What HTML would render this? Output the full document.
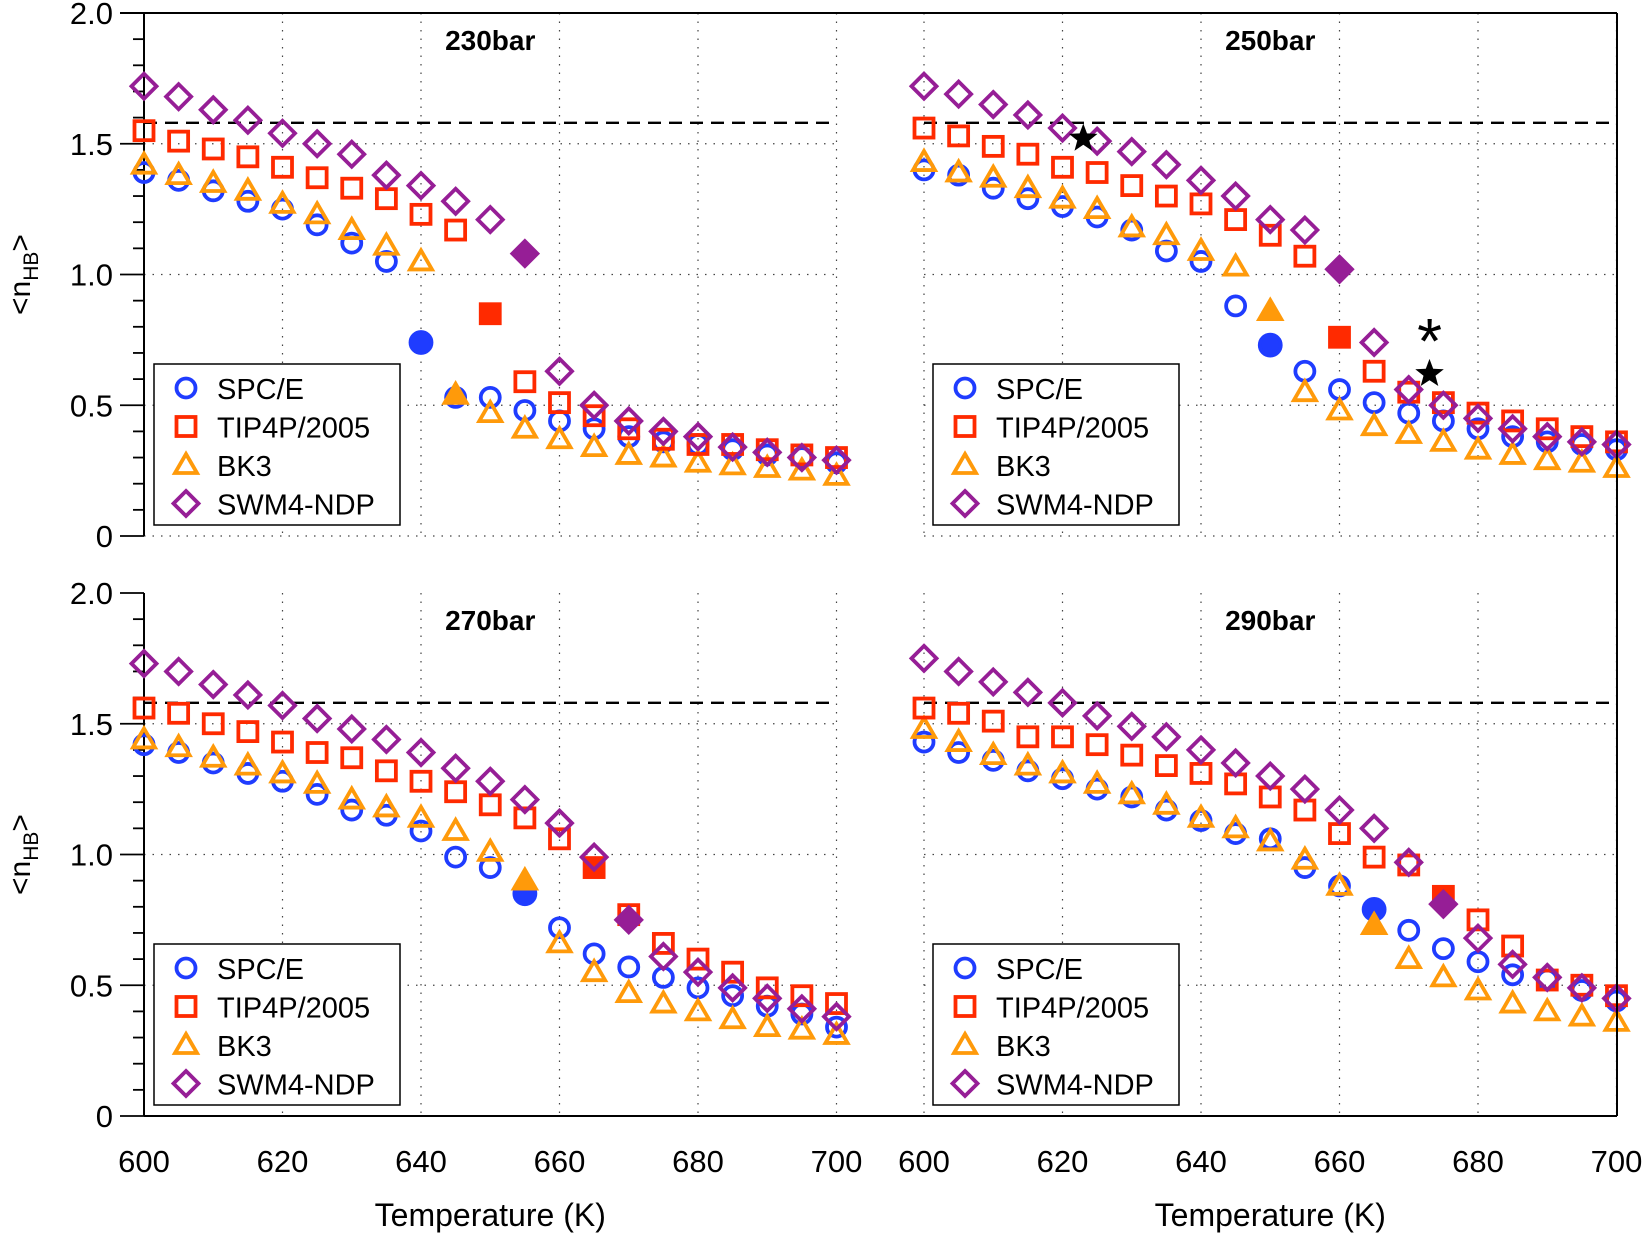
<!DOCTYPE html><html><head><style>body{margin:0;background:#fff}svg{display:block}</style></head><body>
<svg id="s" width="1645" height="1234" xmlns="http://www.w3.org/2000/svg" font-family="Liberation Sans, sans-serif"></svg>
<script>
const S=document.getElementById('s');let h='';
const C={b:'#1f3cff',r:'#ff2a00',o:'#ff9a0a',p:'#961e96'};
const panels=[
{x0:144,yb:536,t:'230bar',d:{
b:[1.39,1.36,1.32,1.28,1.25,1.19,1.12,1.05,0.74,0.53,0.53,0.48,0.44,0.41,0.38,0.36,0.35,0.33,0.31,0.30,0.28],bf:8,
r:[1.55,1.51,1.48,1.45,1.41,1.37,1.33,1.29,1.23,1.17,0.85,0.59,0.51,0.46,0.41,0.37,0.35,0.35,0.33,0.31,0.30],rf:10,
o:[1.42,1.38,1.35,1.32,1.27,1.23,1.17,1.11,1.05,0.54,0.47,0.41,0.37,0.34,0.31,0.30,0.28,0.27,0.26,0.25,0.23],of:9,
p:[1.72,1.68,1.63,1.59,1.54,1.50,1.46,1.38,1.34,1.28,1.21,1.08,0.63,0.50,0.44,0.40,0.38,0.34,0.32,0.30,0.29],pf:11}},
{x0:924,yb:536,t:'250bar',d:{
b:[1.40,1.38,1.33,1.29,1.26,1.22,1.17,1.09,1.05,0.88,0.73,0.63,0.56,0.51,0.47,0.44,0.41,0.38,0.36,0.35,0.33],bf:10,
r:[1.56,1.53,1.49,1.46,1.41,1.39,1.34,1.30,1.27,1.21,1.15,1.07,0.76,0.63,0.55,0.51,0.47,0.44,0.41,0.38,0.36],rf:12,
o:[1.43,1.39,1.37,1.33,1.29,1.25,1.18,1.15,1.09,1.03,0.86,0.55,0.48,0.42,0.39,0.36,0.33,0.31,0.29,0.28,0.26],of:10,
p:[1.72,1.69,1.65,1.61,1.56,1.51,1.47,1.42,1.36,1.30,1.21,1.17,1.02,0.74,0.56,0.50,0.45,0.41,0.38,0.36,0.35],pf:12},stars:true},
{x0:144,yb:1116,t:'270bar',d:{
b:[1.42,1.39,1.35,1.31,1.28,1.23,1.17,1.15,1.09,0.99,0.95,0.85,0.72,0.62,0.57,0.53,0.49,0.46,0.42,0.39,0.34],bf:11,
r:[1.56,1.54,1.50,1.47,1.43,1.39,1.37,1.32,1.28,1.24,1.19,1.14,1.06,0.95,0.77,0.66,0.60,0.55,0.49,0.46,0.43],rf:13,
o:[1.44,1.41,1.37,1.34,1.31,1.27,1.21,1.18,1.14,1.09,1.01,0.90,0.66,0.55,0.47,0.43,0.40,0.37,0.34,0.33,0.31],of:11,
p:[1.73,1.70,1.65,1.61,1.57,1.52,1.48,1.44,1.39,1.33,1.28,1.21,1.12,0.99,0.75,0.61,0.55,0.49,0.45,0.41,0.38],pf:14}},
{x0:924,yb:1116,t:'290bar',d:{
b:[1.43,1.39,1.36,1.32,1.29,1.25,1.22,1.17,1.13,1.08,1.06,0.95,0.88,0.79,0.71,0.64,0.59,0.54,0.52,0.48,0.44],bf:13,
r:[1.56,1.54,1.51,1.45,1.45,1.42,1.38,1.34,1.31,1.27,1.22,1.17,1.08,0.99,0.96,0.84,0.75,0.65,0.52,0.50,0.46],rf:15,
o:[1.48,1.43,1.38,1.34,1.31,1.27,1.23,1.19,1.14,1.10,1.05,0.98,0.88,0.73,0.60,0.53,0.48,0.43,0.40,0.38,0.36],of:13,
p:[1.75,1.70,1.66,1.62,1.58,1.53,1.49,1.45,1.40,1.35,1.30,1.25,1.17,1.10,0.97,0.81,0.68,0.58,0.53,0.49,0.45],pf:15}}];
const K=261.5,W=6.925;
function mk(k,x,y,f){const c=C[k],fill=f?c:'none',st=`stroke="${c}" stroke-width="3.8" fill="${fill}"`;
if(k=='b')return `<circle cx="${x}" cy="${y}" r="${f?10.5:9.5}" ${st}/>`;
if(k=='r')return `<rect x="${x-9.5}" y="${y-9.5}" width="19" height="19" ${st}/>`;
if(k=='o')return `<polygon points="${x},${y-11} ${x+11},${y+8} ${x-11},${y+8}" ${st}/>`;
return `<polygon points="${x},${y-12.5} ${x+12.5},${y} ${x},${y+12.5} ${x-12.5},${y}" ${st}/>`;}
function star(x,y,r){let p=[];for(let i=0;i<10;i++){const a=-Math.PI/2+i*Math.PI/5,rr=i%2?r*0.42:r;p.push((x+rr*Math.cos(a)).toFixed(1)+','+(y+rr*Math.sin(a)).toFixed(1));}return `<polygon points="${p.join(' ')}" fill="#000"/>`;}
panels.forEach((P,i)=>{const X=t=>P.x0+(t-600)*W,Y=v=>P.yb-v*K,left=P.x0==144,top=P.yb==536;
for(let t=620;t<=700;t+=20)h+=`<line x1="${X(t)}" y1="${Y(2)}" x2="${X(t)}" y2="${P.yb}" stroke="#444" stroke-width="1.2" stroke-dasharray="1.5,7"/>`;
if(!left)h+=`<line x1="${X(600)}" y1="${Y(2)}" x2="${X(600)}" y2="${P.yb}" stroke="#444" stroke-width="1.2" stroke-dasharray="1.5,7"/>`;
[0,0.5,1,1.5].forEach(v=>{if(v==0&&!top)return;h+=`<line x1="${X(600)}" y1="${Y(v)}" x2="${X(700)}" y2="${Y(v)}" stroke="#444" stroke-width="1.2" stroke-dasharray="1.5,7"/>`;});
h+=`<line x1="${X(600)}" y1="${Y(1.58)}" x2="${X(700)}" y2="${Y(1.58)}" stroke="#000" stroke-width="2.4" stroke-dasharray="13,8"/>`;
if(left){h+=`<line x1="144" y1="${Y(2)}" x2="144" y2="${P.yb}" stroke="#000" stroke-width="2"/>`;
for(let k=0;k<=20;k++){const v=k/10,maj=k%5==0;h+=`<line x1="${maj?120:133}" y1="${Y(v)}" x2="144" y2="${Y(v)}" stroke="#000" stroke-width="1.8"/>`;}
[[0,'0'],[0.5,'0.5'],[1,'1.0'],[1.5,'1.5'],[2,'2.0']].forEach(([v,s])=>h+=`<text x="113" y="${Y(v)+11}" font-size="31" text-anchor="end">${s}</text>`);
h+=`<text transform="translate(30,${Y(1)}) rotate(-90)" font-size="30" text-anchor="middle">&lt;n<tspan font-size="21" dy="8">HB</tspan><tspan dy="-8">&gt;</tspan></text>`;}
if(!top){for(let t=600;t<=700;t+=20)h+=`<text x="${X(t)}" y="1172" font-size="31" text-anchor="middle">${t}</text>`;
h+=`<text x="${X(650)}" y="1226" font-size="32" text-anchor="middle">Temperature (K)</text>`;}
h+=`<text x="${X(650)}" y="${Y(2)+37}" font-size="28" font-weight="bold" text-anchor="middle">${P.t}</text>`;
['b','o','r','p'].forEach(k=>{P.d[k].forEach((v,j)=>{h+=mk(k,X(600+5*j),Y(v),j==P.d[k+'f']);});});
if(P.stars){h+=star(X(623),Y(1.52),15)+star(X(673),Y(0.62),15);
h+=`<text x="${X(673)}" y="${Y(0.80)+36}" font-size="64" text-anchor="middle">*</text>`;}
const lx=left?154:933,ly=top?364:944;
h+=`<rect x="${lx}" y="${ly}" width="246" height="161" fill="#fff" stroke="#000" stroke-width="1.5"/>`;
[['b','SPC/E'],['r','TIP4P/2005'],['o','BK3'],['p','SWM4-NDP']].forEach(([k,s],j)=>{const yy=ly+24+j*38.5;h+=mk(k,lx+32,yy,false)+`<text x="${lx+63}" y="${yy+11}" font-size="29">${s}</text>`;});
});
h+=`<line x1="120" y1="13" x2="1617" y2="13" stroke="#000" stroke-width="2"/>`;
h+=`<line x1="1617" y1="13" x2="1617" y2="1116" stroke="#000" stroke-width="2"/>`;
h+=`<line x1="144" y1="1116" x2="1617" y2="1116" stroke="#000" stroke-width="2"/>`;
S.innerHTML=h;
</script></body></html>
